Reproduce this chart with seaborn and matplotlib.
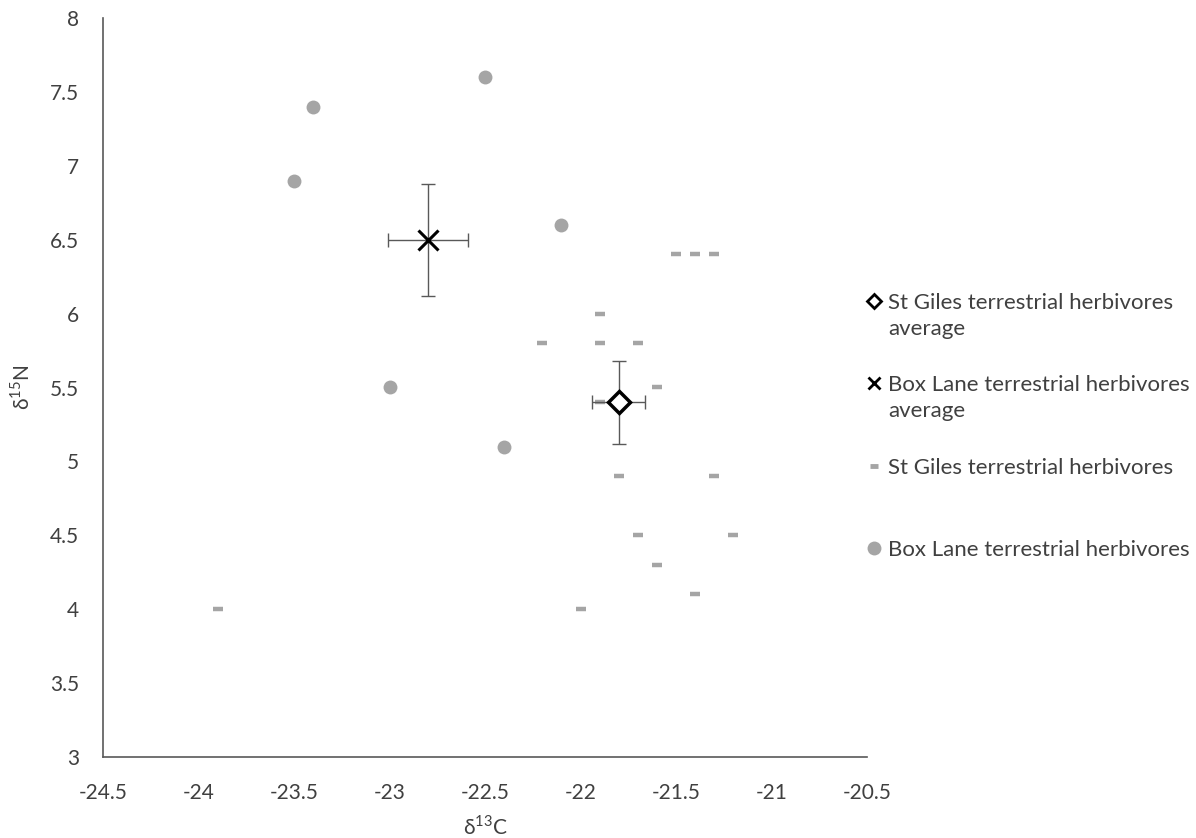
import numpy as np
import pandas as pd
import matplotlib
matplotlib.use("Agg")
import matplotlib.pyplot as plt
from matplotlib.lines import Line2D
import seaborn as sns

# St Giles terrestrial herbivores (d13C, d15N)
st_giles_c = [-21.5, -21.4, -21.3, -21.9, -22.2, -21.9, -21.7, -21.6, -21.9,
              -21.8, -21.3, -21.7, -21.2, -21.6, -21.4, -22.0, -23.9]
st_giles_n = [6.4, 6.4, 6.4, 6.0, 5.8, 5.8, 5.8, 5.5, 5.4,
              4.9, 4.9, 4.5, 4.5, 4.3, 4.1, 4.0, 4.0]

# Box Lane terrestrial herbivores
box_lane_c = [-22.5, -23.4, -23.5, -22.1, -23.0, -22.4]
box_lane_n = [7.6, 7.4, 6.9, 6.6, 5.5, 5.1]

# averages with standard deviations
st_giles_avg = (-21.8, 5.4)
st_giles_err = (0.14, 0.28)
box_lane_avg = (-22.8, 6.5)
box_lane_err = (0.21, 0.38)

legend_labels = [
    "St Giles terrestrial herbivores\naverage",
    "Box Lane terrestrial herbivores\naverage",
    "St Giles terrestrial herbivores",
    "Box Lane terrestrial herbivores",
]

text_col = "#404040"
point_col = "#A5A5A5"

sns.set_style("white")
plt.rcParams["font.family"] = ["Lato", "DejaVu Sans"]
plt.rcParams["mathtext.fontset"] = "custom"
plt.rcParams["mathtext.rm"] = "Lato"

W, H = 1196, 838
fig = plt.figure(figsize=(W / 100, H / 100), dpi=100)
ax = fig.add_axes([103 / W, 1 - 757 / H, (867 - 103) / W, (757 - 18) / H])

df_sg = pd.DataFrame({"c": st_giles_c, "n": st_giles_n})
df_bl = pd.DataFrame({"c": box_lane_c, "n": box_lane_n})

sns.scatterplot(data=df_sg, x="c", y="n", marker="_", s=45, linewidth=3.2,
                color=point_col, ax=ax, zorder=3)
sns.scatterplot(data=df_bl, x="c", y="n", marker="o", s=100, linewidth=0,
                color=point_col, ax=ax, zorder=3)

ax.errorbar(st_giles_avg[0], st_giles_avg[1], xerr=st_giles_err[0], yerr=st_giles_err[1],
            fmt="none", ecolor="#595959", elinewidth=1, capsize=5, capthick=1, zorder=4)
ax.errorbar(box_lane_avg[0], box_lane_avg[1], xerr=box_lane_err[0], yerr=box_lane_err[1],
            fmt="none", ecolor="#595959", elinewidth=1, capsize=5, capthick=1, zorder=4)
ax.plot(st_giles_avg[0], st_giles_avg[1], marker="D", ms=11, mfc="white", mec="black",
        mew=2.5, linestyle="none", zorder=5)
ax.plot(box_lane_avg[0], box_lane_avg[1], marker="x", ms=14, mec="black",
        mew=2.2, linestyle="none", zorder=5)

xt = np.arange(-24.5, -20.4, 0.5)
yt = np.arange(3, 8.01, 0.5)
ax.set_xlim(-24.5, -20.5)
ax.set_ylim(3, 8)
ax.set_xticks(xt)
ax.set_yticks(yt)
ax.set_xticklabels([f"{v:g}" for v in xt])
ax.set_yticklabels([f"{v:g}" for v in yt])
ax.tick_params(axis="both", length=0, labelsize=15, labelcolor=text_col)
ax.tick_params(axis="x", pad=19)
ax.tick_params(axis="y", pad=17)

sns.despine(ax=ax)
for s in ["left", "bottom"]:
    ax.spines[s].set_color("#595959")
    ax.spines[s].set_linewidth(1.2)

ax.set_xlabel("δ$^{13}$C", fontsize=15, color=text_col, labelpad=8)
ax.set_ylabel("δ$^{15}$N", fontsize=15, color=text_col, labelpad=12)

# legend drawn by hand, Excel style: marker next to first line of each label
handles = [
    dict(marker="D", ms=7, mfc="white", mec="black", mew=2),
    dict(marker="x", ms=9, mec="black", mew=2),
    dict(marker="_", ms=6, mec=point_col, mew=3.5),
    dict(marker="o", ms=10, mfc=point_col, mec=point_col, mew=0),
]
first_line_y = [301, 383, 466, 548]
for lab, h, yy in zip(legend_labels, handles, first_line_y):
    fig.add_artist(Line2D([874 / W], [1 - yy / H], linestyle="none", **h))
    fig.text(888 / W, 1 - (yy - 8) / H, lab, ha="left", va="top", fontsize=16,
             color=text_col, linespacing=1.4)

fig.savefig("out.png", dpi=100)
